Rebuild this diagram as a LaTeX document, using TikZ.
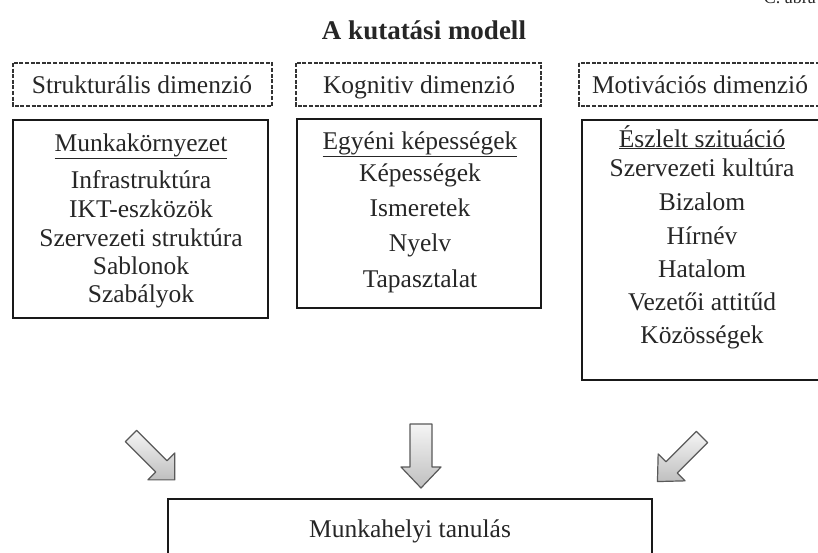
\documentclass[tikz,border=0pt]{standalone}
\usepackage{fontspec}
\setmainfont{Liberation Serif}
\begin{document}
\begin{tikzpicture}[x=1pt,y=-1pt,
  txt/.style={inner sep=0pt, anchor=base, font=\fontsize{25.5}{28}\selectfont, text=black!85},
  dimbox/.style={draw=black!80, line width=1.5pt, dash pattern=on 4pt off 1.6pt, inner sep=0pt},
  listbox/.style={draw=black!90, line width=2.4pt, inner sep=0pt},
  barrow/.style={draw=gray!70!black, line width=1.2pt, top color=gray!8, bottom color=gray!50, line join=round}
]
\useasboundingbox (0,0) rectangle (818,552);
\clip (0,0) rectangle (818,552);

% partially visible caption at the top edge
\node[anchor=base east, inner sep=0pt, font=\fontsize{18}{20}\selectfont, text=black!85] (cap) at (816,3) {C. ábra};

% title
\node[txt, font=\bfseries\fontsize{27}{30}\selectfont] (title) at (424,39) {A kutatási modell};

% dimension boxes (dashed)
\draw[dimbox] (13,63) rectangle (272,106);
\node[txt] (dimL) at (142,93.5) {Strukturális dimenzió};
\draw[dimbox] (296,63) rectangle (541,106);
\node[txt] (dimM) at (419,93.5) {Kognitiv dimenzió};
\draw[dimbox] (579,63) rectangle (830,106);
\node[txt] (dimR) at (700,93.5) {Motivációs dimenzió};

% list boxes
\draw[listbox] (13,120) rectangle (268,318);
\node[txt] (hL) at (141,151) {\underline{Munkakörnyezet}};
\node[txt] (l1) at (141,188) {Infrastruktúra};
\node[txt] (l2) at (141,217) {IKT-eszközök};
\node[txt] (l3) at (141,246) {Szervezeti struktúra};
\node[txt] (l4) at (141,274.5) {Sablonok};
\node[txt] (l5) at (141,302.5) {Szabályok};

\draw[listbox] (297,119) rectangle (541,308);
\node[txt] (hM) at (420,149) {\underline{Egyéni képességek}};
\node[txt] (m1) at (420,181) {Képességek};
\node[txt] (m2) at (420,216.5) {Ismeretek};
\node[txt] (m3) at (420,251.5) {Nyelv};
\node[txt] (m4) at (420,287) {Tapasztalat};

\draw[listbox] (582,120) rectangle (830,380);
\node[txt] (hR) at (702,147) {\underline{Észlelt szituáció}};
\node[txt] (r1) at (702,176.5) {Szervezeti kultúra};
\node[txt] (r2) at (702,210.5) {Bizalom};
\node[txt] (r3) at (702,244) {Hírnév};
\node[txt] (r4) at (702,277) {Hatalom};
\node[txt] (r5) at (702,310.5) {Vezetői attitűd};
\node[txt] (r6) at (702,343.5) {Közösségek};

% bottom box
\draw[listbox] (168,499) rectangle (652,570);
\node[txt] (out) at (410,537.5) {Munkahelyi tanulás};

% block arrows
\begin{scope}[shift={(131,436)}, rotate=45]
  \draw[barrow] (-8,0) -- (8,0) -- (8,43) -- (19,43) -- (0,62) -- (-19,43) -- (-8,43) -- cycle;
\end{scope}
\begin{scope}[shift={(421,424)}]
  \draw[barrow] (-11,0) -- (11,0) -- (11,43) -- (20,43) -- (0,64) -- (-20,43) -- (-11,43) -- cycle;
\end{scope}
\begin{scope}[shift={(702,437)}, rotate=-45]
  \draw[barrow] (-8,0) -- (8,0) -- (8,43) -- (19,43) -- (0,63) -- (-19,43) -- (-8,43) -- cycle;
\end{scope}
\end{tikzpicture}
\end{document}
